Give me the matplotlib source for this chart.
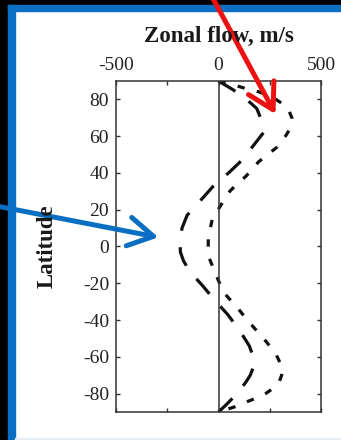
import numpy as np
import matplotlib
matplotlib.use('Agg')
import matplotlib.pyplot as plt
from matplotlib.patches import Rectangle

# zonal flow profiles (m/s vs latitude)
lat_long = [90, 86, 82, 75, 68, 62, 55, 47, 40, 33, 24, 17, 10, 3, -3, -8, -14, -21,
            -29, -37, -46, -54, -60, -65, -70, -74, -78, -82, -86, -90]
u_long = [0, 60, 117, 187, 212, 220, 171, 115, 49, -24, -96, -153, -178, -187, -186,
          -170, -137, -80, -20, 45, 105, 150, 170, 172, 155, 132, 105, 73, 38, 0]

lat_short = [90, 88, 86, 84, 82, 80, 77, 74, 70, 66, 62, 58, 54, 50, 46, 42, 38, 34, 30,
             24, 15, 5, -5, -16, -25, -33, -41, -50, -58, -66, -70, -74, -77, -80, -82,
             -85, -87, -90]
u_short = [0, 70, 130, 200, 245, 280, 320, 343, 358, 355, 338, 315, 285, 240, 195, 165,
           132, 90, 55, 20, -30, -50, -50, -10, 25, 90, 148, 220, 278, 312, 308, 295,
           268, 230, 195, 125, 85, 0]

xticks = [-500, -250, 0, 250, 500]
xticklabels = ['-500', '', '0', '', '500']
yticks = [80, 60, 40, 20, 0, -20, -40, -60, -80]

plt.rcParams['font.family'] = ['Liberation Serif', 'DejaVu Serif']
plt.rcParams['axes.unicode_minus'] = False

fig = plt.figure(figsize=(3.41, 4.40), dpi=100)
fig.patch.set_facecolor('white')

# frame of the slide
blk = 'black'
blu = '#0a6fc2'
fig.patches.append(Rectangle((0, 0), 8/341, 1, transform=fig.transFigure, color=blk, zorder=-2))
fig.patches.append(Rectangle((0, 1-5/440), 1, 5/440, transform=fig.transFigure, color=blk, zorder=-2))
fig.patches.append(Rectangle((8/341, 0), 7/341, 1-5/440, transform=fig.transFigure, color=blu, zorder=-1))
fig.patches.append(Rectangle((8/341, 1-11/440), 1, 6/440, transform=fig.transFigure, color=blu, zorder=-1))
fig.patches.append(Rectangle((15/341, 0), 1, 2/440, transform=fig.transFigure, color='#e8eef6', zorder=-1))

ax = fig.add_axes([116/341, 28/440, 205/341, 331/440])
ax.plot(u_long, lat_long, color='#111111', lw=2.3, dashes=(6.2, 5.2))
ax.plot(u_short, lat_short, color='#111111', lw=2.3, dashes=(2.3, 3.9))
ax.axvline(0, color='#333333', lw=1.1)

ax.set_xlim(-500, 500)
ax.set_ylim(-90, 90)
ax.set_xticks(xticks)
ax.set_xticklabels(xticklabels)
ax.set_yticks(yticks)
ax.xaxis.set_ticks_position('both')
ax.yaxis.set_ticks_position('both')
ax.tick_params(axis='x', labeltop=True, labelbottom=False)
ax.tick_params(direction='in', length=3, width=1, color='#333333',
               labelsize=14, labelcolor='#222222', pad=5)
for s in ax.spines.values():
    s.set_color('#333333')
    s.set_linewidth(1.1)

fig.text(219/341, 1-42/440, 'Zonal flow, m/s', ha='center', va='baseline',
         fontsize=16.5, fontweight='bold', color='#1a1a1a')
fig.text(47/341, 1-246/440, 'Latitude', ha='center', va='center', rotation=90,
         fontsize=16.5, fontweight='bold', color='#1a1a1a')

# arrows pointing at the curves
ax.annotate('', xy=(278, 72), xytext=(0.62, 1.01), textcoords='figure fraction',
            arrowprops=dict(arrowstyle='->,head_length=0.9,head_width=0.52',
                            color='#ee1111', lw=3.6, mutation_scale=20,
                            shrinkA=0, shrinkB=0), zorder=10)
ax.annotate('', xy=(-293, 5), xytext=(-0.005, 0.531), textcoords='figure fraction',
            arrowprops=dict(arrowstyle='->,head_length=0.9,head_width=0.52',
                            color='#0a6fc2', lw=3.6, mutation_scale=20,
                            shrinkA=0, shrinkB=0), zorder=10)

plt.savefig('out.png', dpi=100)
